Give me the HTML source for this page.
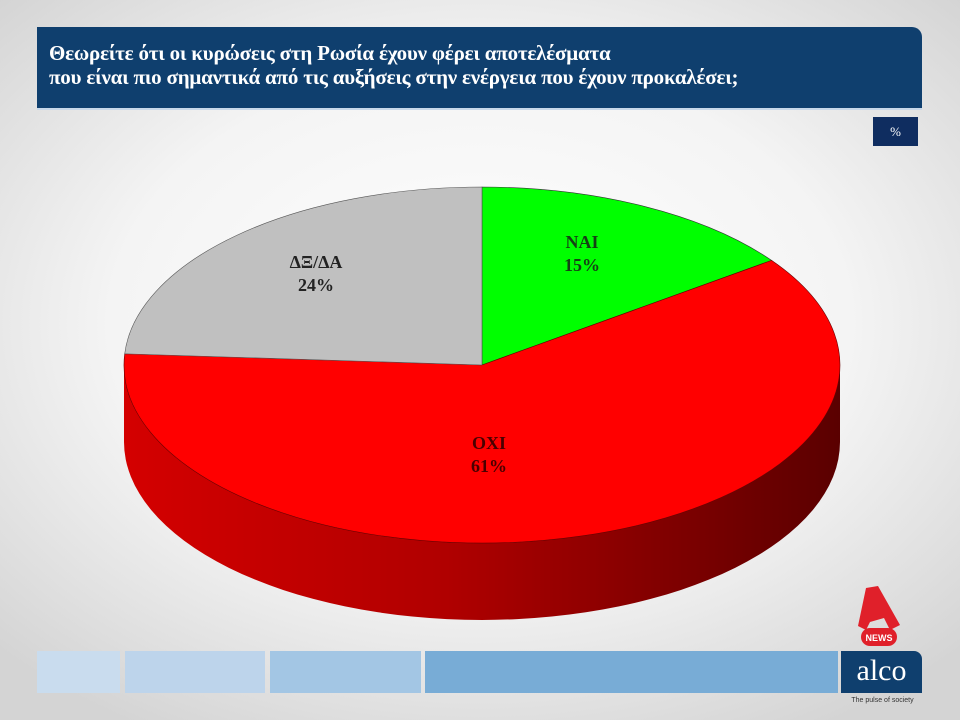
<!DOCTYPE html>
<html><head><meta charset="utf-8"><style>
html,body{margin:0;padding:0;}
body{width:960px;height:720px;overflow:hidden;position:relative;
background:radial-gradient(ellipse 70% 65% at 50% 45%,#ffffff 0%,#f4f4f4 55%,#d4d4d4 100%);
font-family:"Liberation Serif",serif;}
.title{position:absolute;left:37px;top:27px;width:885px;height:83px;background:#0f3f6e;border-top-right-radius:10px;border-bottom:2px solid #c8d8ea;
color:#fff;font-weight:bold;font-size:21px;line-height:24px;box-sizing:border-box;padding:14px 0 0 12px;letter-spacing:-0.2px;}
.pct{position:absolute;left:873px;top:117px;width:45px;height:29px;background:#0f2d60;color:#fff;font-size:13px;text-align:center;line-height:29px;}
.bar{position:absolute;top:651px;height:42px;}
</style></head><body>
<div class="title">Θεωρείτε ότι οι κυρώσεις στη Ρωσία έχουν φέρει αποτελέσματα<br>που είναι πιο σημαντικά από τις αυξήσεις στην ενέργεια που έχουν προκαλέσει;</div>
<div class="pct">%</div>
<svg width="960" height="720" style="position:absolute;left:0;top:0">
<defs>
<linearGradient id="side" x1="0" y1="0" x2="1" y2="0">
<stop offset="0" stop-color="#d40000"/><stop offset="0.45" stop-color="#b00000"/><stop offset="1" stop-color="#5a0000"/>
</linearGradient>
</defs>
<path d="M124,365 A358,178 0 0 0 840,365 L840,442 A358,178 0 0 1 124,442 Z" fill="url(#side)"/>
<path d="M482,365 L482,187 A358,178 0 0 1 771.6,260.4 Z" fill="#00ff00" stroke="#333" stroke-width="0.6"/>
<path d="M482,365 L771.6,260.4 A358,178 0 1 1 124.7,353.8 Z" fill="#ff0000" stroke="#600" stroke-width="0.6"/>
<path d="M482,365 L124.7,353.8 A358,178 0 0 1 482,187 Z" fill="#c0c0c0" stroke="#555" stroke-width="0.6"/>
<g font-family="Liberation Serif, serif" font-weight="bold" font-size="18" text-anchor="middle">
<text x="582" y="248" fill="#154015">ΝΑΙ</text><text x="582" y="271" fill="#154015">15%</text>
<text x="316" y="268" fill="#222">ΔΞ/ΔΑ</text><text x="316" y="291" fill="#222">24%</text>
<text x="489" y="449" fill="#4a0000">ΟΧΙ</text><text x="489" y="472" fill="#4a0000">61%</text>
</g>
<path d="M866,588 L878,586 L900,625 L890,630 L884,618 L870,622 L866,630 L858,626 Z" fill="#e0202a"/>
<rect x="861" y="628" width="36" height="18" rx="9" fill="#e0202a"/>
<text x="879" y="641" font-family="Liberation Sans, sans-serif" font-size="9" font-weight="bold" fill="#fff" text-anchor="middle">NEWS</text>
</svg>
<div class="bar" style="left:37px;width:83px;background:#c9dcee"></div>
<div class="bar" style="left:125px;width:140px;background:#bdd4eb"></div>
<div class="bar" style="left:270px;width:151px;background:#a3c6e4"></div>
<div class="bar" style="left:425px;width:413px;background:#78acd6"></div>
<div class="bar" style="left:841px;width:81px;background:#0f3f6e;border-top-right-radius:8px;color:#fff;font-size:30px;text-align:center;line-height:40px;">alco</div>
<div style="position:absolute;left:845px;top:697px;width:75px;font-family:'Liberation Sans',sans-serif;font-size:7px;color:#333;text-align:center;">The pulse of society</div>
</body></html>
